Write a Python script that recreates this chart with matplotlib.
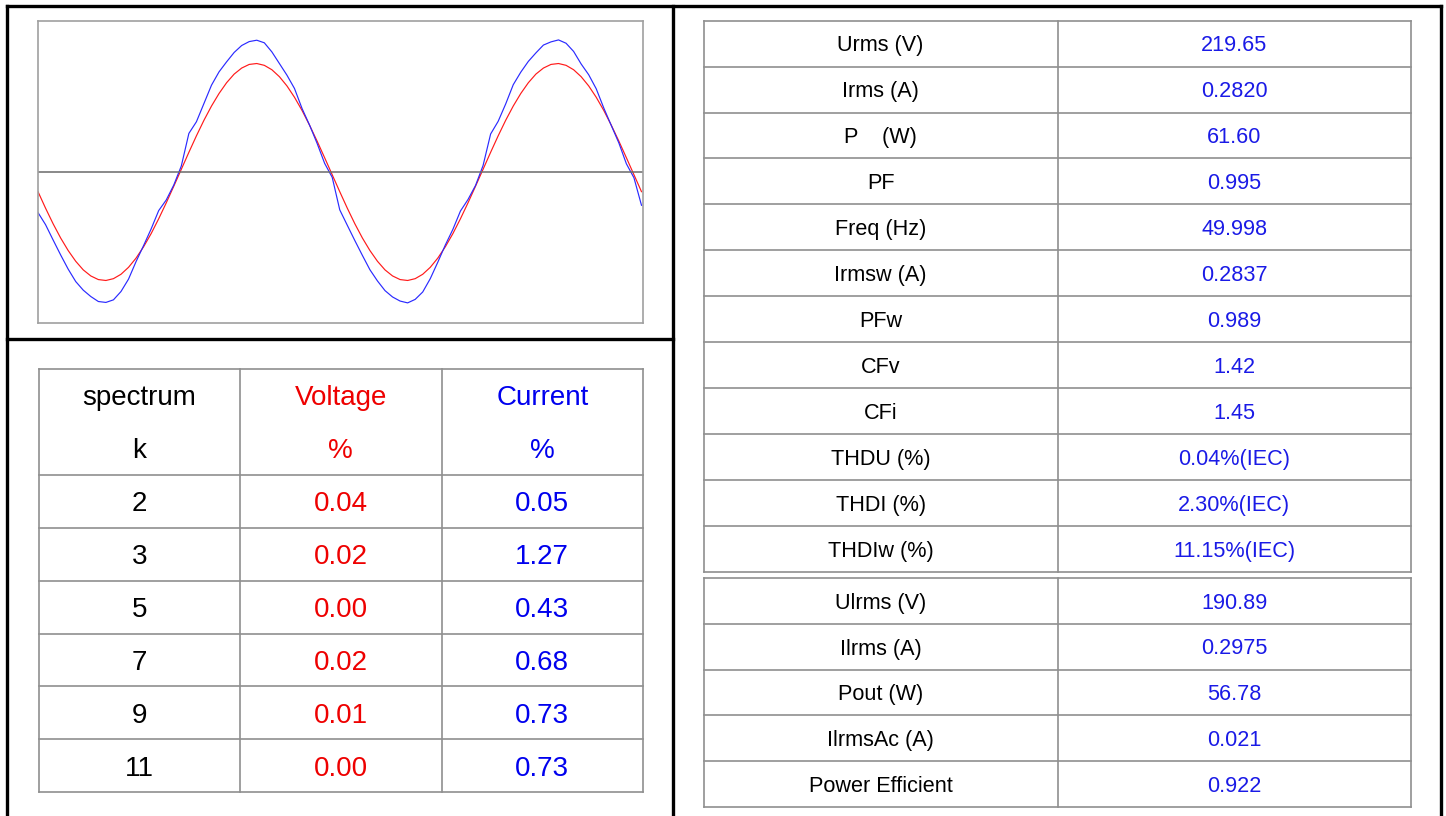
import matplotlib.pyplot as plt

plt.rcParams['font.family'] = ['Liberation Sans', 'DejaVu Sans']

# waveform samples, 0.5 ms apart (values in % of half the plot height)
t_ms = [0.5 * k for k in range(81)]
voltage_wave = [-13.0, -23.9, -34.2, -43.6, -51.9, -59.0, -64.7, -68.7, -71.1, -71.7,
                -70.5, -67.6, -63.0, -56.9, -49.4, -40.7, -30.9, -20.4, -9.4, 1.8,
                13.0, 23.9, 34.2, 43.6, 51.9, 59.0, 64.7, 68.7, 71.1, 71.7,
                70.5, 67.6, 63.0, 56.9, 49.4, 40.7, 30.9, 20.4, 9.4, -1.8,
                -13.0, -23.9, -34.2, -43.6, -51.9, -59.0, -64.7, -68.7, -71.1, -71.7,
                -70.5, -67.6, -63.0, -56.9, -49.4, -40.7, -30.9, -20.4, -9.4, 1.8,
                13.0, 23.9, 34.2, 43.6, 51.9, 59.0, 64.7, 68.7, 71.1, 71.7,
                70.5, 67.6, 63.0, 56.9, 49.4, 40.7, 30.9, 20.4, 9.4, -1.8, -13.0]
current_wave = [-26.8, -34.8, -44.9, -54.8, -64.2, -72.4, -78.1, -82.3, -85.6, -86.2,
                -84.5, -79.0, -70.8, -59.2, -48.6, -37.6, -25.5, -18.5, -8.6, 4.0,
                25.5, 33.2, 45.3, 57.4, 66.2, 72.8, 79.0, 83.6, 86.2, 87.1,
                85.4, 79.4, 71.7, 64.0, 55.2, 42.0, 31.0, 18.9, 5.7, -3.5,
                -25.0, -35.2, -45.3, -55.1, -64.6, -72.0, -78.4, -82.6, -85.3, -86.5,
                -84.2, -79.3, -70.5, -59.6, -48.2, -37.9, -25.8, -18.2, -8.9, 4.3,
                25.1, 33.5, 45.0, 57.7, 66.0, 73.1, 78.7, 83.9, 86.0, 87.3,
                85.1, 79.7, 71.4, 64.3, 55.0, 42.3, 30.7, 19.2, 5.4, -3.8, -22.0]

# harmonic spectrum table
spec_head = [("spectrum", "Voltage", "Current"), ("k", "%", "%")]
spec_k = ["2", "3", "5", "7", "9", "11"]
spec_voltage = ["0.04", "0.02", "0.00", "0.02", "0.01", "0.00"]
spec_current = ["0.05", "1.27", "0.43", "0.68", "0.73", "0.73"]

# measurement tables
meas_names = ["Urms (V)", "Irms (A)", "P    (W)", "PF", "Freq (Hz)", "Irmsw (A)",
              "PFw", "CFv", "CFi", "THDU (%)", "THDI (%)", "THDIw (%)"]
meas_values = ["219.65", "0.2820", "61.60", "0.995", "49.998", "0.2837",
               "0.989", "1.42", "1.45", "0.04%(IEC)", "2.30%(IEC)", "11.15%(IEC)"]
out_names = ["Ulrms (V)", "Ilrms (A)", "Pout (W)", "IlrmsAc (A)", "Power Efficient"]
out_values = ["190.89", "0.2975", "56.78", "0.021", "0.922"]

W, H = 1446, 816
fig = plt.figure(figsize=(W / 100, H / 100), dpi=100)
bg = fig.add_axes([0, 0, 1, 1])
bg.set_xlim(0, W)
bg.set_ylim(H, 0)
bg.axis('off')

# outer frame
frame = dict(color='black', lw=2.4, solid_capstyle='projecting')
bg.plot([7, 7], [6, H + 5], **frame)
bg.plot([1441, 1441], [6, H + 5], **frame)
bg.plot([7, 1441], [6, 6], **frame)
bg.plot([673, 673], [6, H + 5], **frame)
bg.plot([7, 673], [338.5, 338.5], **frame)

grid = dict(color='#8f8f8f', lw=1.2)
red, blue = '#ee0000', '#0000ee'


def put(x, yc, s, size, color='black'):
    # baseline below the row centre so digits sit in the middle
    bg.text(x, yc + 0.36 * size * 100 / 72, s, fontsize=size, color=color,
            ha='center', va='baseline')


# waveform
x0, x1, y0, y1 = 38, 643, 20.7, 323.3
wax = fig.add_axes([x0 / W, (H - y1) / H, (x1 - x0) / W, (y1 - y0) / H])
wax.plot(t_ms, voltage_wave, color='#ff1a1a', lw=0.85)
wax.plot(t_ms, current_wave, color='#2a2aff', lw=0.85)
wax.axhline(0, color='#6a6a6a', lw=1.1)
wax.set_xlim(0, 40.1)
wax.set_ylim(-100, 100)
wax.set_xticks([])
wax.set_yticks([])
for s in wax.spines.values():
    s.set_color('#a0a0a0')
    s.set_linewidth(1.2)

# spectrum table
cols = [38.6, 239.8, 441.5, 643]
rh = 52.9
top = 369
nrows = 2 + len(spec_k)
bottom = top + nrows * rh
for x in cols:
    bg.plot([x, x], [top, bottom], **grid)
for i in range(nrows + 1):
    if i == 1:
        continue
    y = top + i * rh
    bg.plot([cols[0], cols[-1]], [y, y], **grid)
cx = [(cols[i] + cols[i + 1]) / 2 for i in range(3)]
fs = 20
for r, head in enumerate(spec_head):
    yc = top + (r + 0.5) * rh
    put(cx[0], yc, head[0], fs)
    put(cx[1], yc, head[1], fs, red)
    put(cx[2], yc, head[2], fs, blue)
for r in range(len(spec_k)):
    yc = top + (r + 2.5) * rh
    put(cx[0], yc, spec_k[r], fs)
    put(cx[1], yc, spec_voltage[r], fs, red)
    put(cx[2], yc, spec_current[r], fs, blue)

# right tables
rx = [703.7, 1057.6, 1411]
rcx = [(rx[0] + rx[1]) / 2, (rx[1] + rx[2]) / 2]
fs2 = 15.6


def block(names, values, top, rh):
    n = len(names)
    bottom = top + n * rh
    for x in rx:
        bg.plot([x, x], [top, bottom], **grid)
    for i in range(n + 1):
        y = top + i * rh
        bg.plot([rx[0], rx[-1]], [y, y], **grid)
    for i in range(n):
        yc = top + (i + 0.5) * rh
        put(rcx[0], yc, names[i], fs2)
        put(rcx[1], yc, values[i], fs2, '#1a1ae6')


block(meas_names, meas_values, 20.7, 45.92)
block(out_names, out_values, 578, 45.8)

fig.savefig('out.png', dpi=100)
